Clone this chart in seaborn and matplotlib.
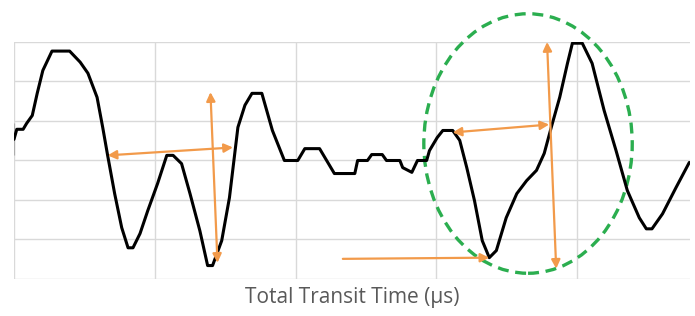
import numpy as np
import pandas as pd
import seaborn as sns
import matplotlib.pyplot as plt
from matplotlib.patches import Ellipse

# waveform (time in us, amplitude in grid units)
time_us = [0.0, 0.0, 0.4, 1.3, 1.8, 2.6, 3.3, 4.1, 5.4, 7.9, 9.4, 10.5, 11.8, 12.6,
           13.3, 14.3, 15.3, 16.2, 16.9, 17.9, 19.0, 20.4, 21.7, 22.6, 23.8, 25.0,
           26.4, 27.5, 28.2, 29.5, 30.6, 31.8, 32.8, 33.8, 35.2, 36.7, 38.4, 40.3,
           41.3, 43.4, 44.4, 45.5, 48.4, 48.8, 50.2, 50.8, 52.3, 52.9, 54.8, 55.2,
           56.5, 57.3, 58.6, 59.0, 60.1, 60.9, 62.3, 63.3, 64.3, 65.4, 66.5, 67.5,
           68.5, 69.9, 71.4, 72.8, 74.2, 75.3, 76.3, 77.5, 78.6, 79.3, 80.7, 82.1,
           83.8, 85.5, 87.1, 88.8, 89.8, 90.6, 92.1, 94.0, 95.9]
amplitude = [0.13, 0.94, 0.79, 0.79, 0.94, 1.14, 1.70, 2.28, 2.77, 2.77, 2.49, 2.21,
             1.60, 0.84, 0.13, -0.84, -1.70, -2.21, -2.21, -1.85, -1.27, -0.58, 0.13,
             0.13, -0.08, -0.84, -1.78, -2.66, -2.66, -2.03, -0.94, 0.84, 1.40, 1.70,
             1.70, 0.76, 0.0, 0.0, 0.30, 0.30, 0.0, -0.33, -0.33, 0.0, 0.0, 0.15,
             0.15, 0.0, 0.0, -0.18, -0.30, 0.0, 0.0, 0.25, 0.58, 0.76, 0.76, 0.51,
             -0.18, -1.02, -2.03, -2.46, -2.28, -1.45, -0.84, -0.51, -0.25, 0.18,
             0.84, 1.60, 2.46, 2.97, 2.97, 2.46, 1.27, 0.25, -0.76, -1.45, -1.73,
             -1.73, -1.35, -0.69, -0.05]

# annotation arrows: (x0, y0, x1, y1, style)
arrows = [
    (13.3, 0.13, 31.1, 0.33, '<|-|>'),
    (27.9, 1.73, 28.9, -2.59, '<|-|>'),
    (62.3, 0.71, 76.0, 0.91, '<|-|>'),
    (75.7, 3.0, 77.0, -2.74, '<|-|>'),
    (46.7, -2.49, 67.5, -2.46, '-|>'),
]
# dashed ellipse: centre x, centre y, width, height
ring = (73.0, 0.43, 29.6, 6.57)

df = pd.DataFrame({'t': time_us, 'a': amplitude})

sns.set_style('white')
plt.rcParams['font.family'] = ['Open Sans', 'DejaVu Sans']

fig = plt.figure(figsize=(6.95, 3.16), dpi=100)
ax = fig.add_axes([0.0201, 0.1171, 0.9727, 0.75])

sns.lineplot(data=df, x='t', y='a', sort=False, color='black', lw=2.2, ax=ax)

ax.set_xlim(0, 96)
ax.set_ylim(-3, 3)
ax.set_xticks([0, 20, 40, 60, 80])
ax.set_yticks(np.arange(-3, 4))
ax.tick_params(length=0, labelbottom=False, labelleft=False)
ax.grid(True, color='#d9d9d9', lw=1)
ax.set_axisbelow(True)
sns.despine(ax=ax, left=True, bottom=True)
ax.set_ylabel('')
ax.set_xlabel('Total Transit Time (µs)', fontsize=15, color='#595959', labelpad=6)

for x0, y0, x1, y1, style in arrows:
    ax.annotate('', xy=(x1, y1), xytext=(x0, y0),
                arrowprops=dict(arrowstyle=style, color='#f29a4a', lw=1.6,
                                mutation_scale=13, shrinkA=0, shrinkB=0),
                annotation_clip=False)

cx, cy, w, h = ring
ax.add_patch(Ellipse((cx, cy), w, h, fill=False, edgecolor='#2bae4f', lw=2.4,
                     linestyle=(0, (3.3, 2)), clip_on=False))

fig.savefig('out.png', dpi=100)
